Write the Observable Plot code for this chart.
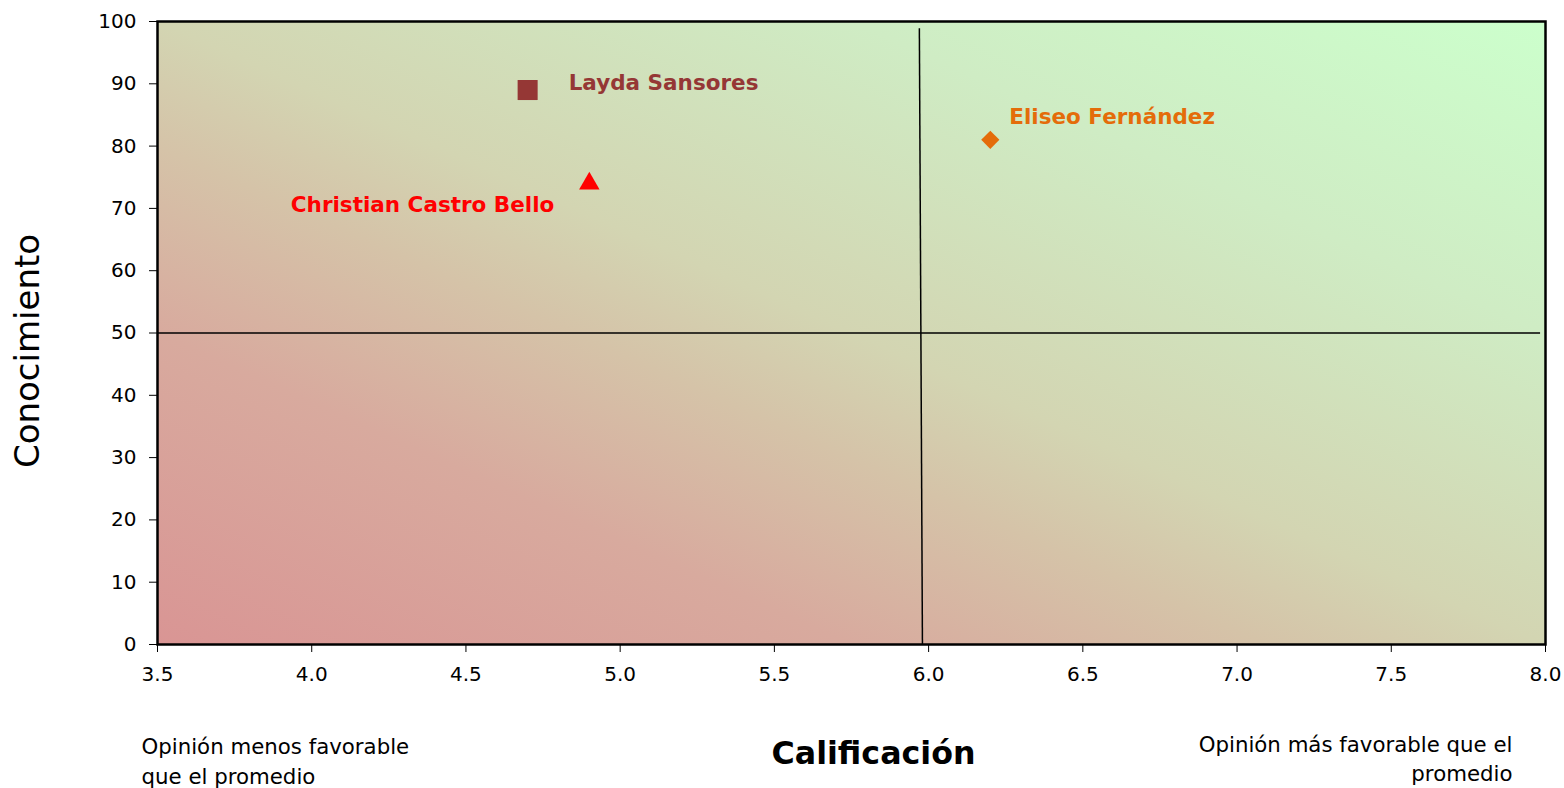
<!DOCTYPE html>
<html>
<head>
<meta charset="utf-8">
<script src="https://cdn.jsdelivr.net/npm/d3@7"></script>
<script src="https://cdn.jsdelivr.net/npm/@observablehq/plot@0.6"></script>
<style>
  html, body { margin: 0; padding: 0; background: #fff; }
  #chart svg { display: block; }
</style>
</head>
<body>
<div id="chart"></div>
<script>
// ---- data ----
const names = ["Layda Sansores", "Christian Castro Bello", "Eliseo Fernández"];
const calificacion = [4.7, 4.9, 6.2];
const conocimiento = [89, 74, 81];
const symbols = ["square", "triangle", "diamond2"];
const colors = ["#953735", "#ff0000", "#e46c0a"];
const xTicks = [3.5, 4.0, 4.5, 5.0, 5.5, 6.0, 6.5, 7.0, 7.5, 8.0];
const yTicks = [0, 10, 20, 30, 40, 50, 60, 70, 80, 90, 100];
const promedioCalificacion = [5.97, 5.98]; // drawn average line (top, bottom)
const promedioConocimiento = 50;
const xLabel = "Calificación";
const yLabel = "Conocimiento";
const leftNote = "Opinión menos favorable\nque el promedio";
const rightNote = "Opinión más favorable que el\npromedio";

const points = names.map((n, i) => ({
  name: n, x: calificacion[i], y: conocimiento[i], symbol: symbols[i], color: colors[i]
}));

// marker size / label offsets per symbol (style, not data)
const rBySymbol = {square: 11.3, triangle: 7.6, diamond2: 8.2};
const labelStyle = {
  "Layda Sansores": {dx: 41, dy: -7, anchor: "start"},
  "Christian Castro Bello": {dx: -35, dy: 22, anchor: "end"},
  "Eliseo Fernández": {dx: 19, dy: -23, anchor: "start"}
};

const font = "'DejaVu Sans', sans-serif";

const gradientDefs = () => {
  const defs = d3.create("svg:defs");
  const g = defs.append("linearGradient").attr("id", "bgGrad")
    .attr("x1", 0).attr("y1", 1).attr("x2", 1).attr("y2", 0);
  [[0, "#d99594"], [0.25, "#d8aa9e"], [0.4, "#d5c3a8"], [0.5, "#d3d5b2"], [0.75, "#cfecc4"], [1, "#ccffcc"]]
    .forEach(([o, c]) => g.append("stop").attr("offset", o).attr("stop-color", c));
  return defs.node();
};

const plot = Plot.plot({
  width: 1564,
  height: 788,
  marginLeft: 157,
  marginRight: 19,
  marginTop: 21,
  marginBottom: 144,
  style: {fontFamily: font, fontSize: "20px", color: "black", background: "white"},
  x: {domain: [3.5, 8.0], label: null},
  y: {domain: [0, 100], label: null},
  marks: [
    gradientDefs,
    Plot.frame({fill: "url(#bgGrad)", stroke: "none"}),
    Plot.link([0], {
      x1: () => promedioCalificacion[0], y1: () => 98.9,
      x2: () => promedioCalificacion[1], y2: () => 0,
      stroke: "black", strokeWidth: 1.5
    }),
    Plot.ruleY([promedioConocimiento], {x1: 3.5, x2: 7.984, stroke: "black", strokeWidth: 1.5}),
    Plot.frame({stroke: "black", strokeWidth: 2.5}),
    Plot.axisX({ticks: xTicks, tickFormat: d => d.toFixed(1), tickSize: 8, tickPadding: 14, label: null, fontSize: 20}),
    Plot.axisY({ticks: yTicks, tickSize: 8, tickPadding: 13, label: null, fontSize: 20}),
    ...points.map(p => Plot.dot([p], {
      x: "x", y: "y", symbol: "symbol", fill: "color", stroke: "none",
      r: rBySymbol[p.symbol]
    })),
    ...points.map(p => Plot.text([p], {
      x: "x", y: "y", text: "name", fill: "color",
      dx: labelStyle[p.name].dx, dy: labelStyle[p.name].dy,
      textAnchor: labelStyle[p.name].anchor,
      fontSize: 21.5, fontWeight: "bold"
    })),
    Plot.text([xLabel], {frameAnchor: "bottom", lineAnchor: "middle", dx: 22, dy: 109, fontSize: 31.7, fontWeight: "bold"}),
    Plot.text([yLabel], {frameAnchor: "left", textAnchor: "middle", lineAnchor: "middle", dx: -129, dy: 18, rotate: -90, fontSize: 34}),
    Plot.text([leftNote], {frameAnchor: "bottom-left", textAnchor: "start", lineAnchor: "middle", dx: -16, dy: 115, fontSize: 21.3, lineHeight: 1.38}),
    Plot.text([rightNote], {frameAnchor: "bottom-right", textAnchor: "end", lineAnchor: "middle", dx: -33, dy: 113, fontSize: 21.3, lineHeight: 1.32})
  ]
});

document.getElementById("chart").appendChild(plot);
</script>
</body>
</html>
